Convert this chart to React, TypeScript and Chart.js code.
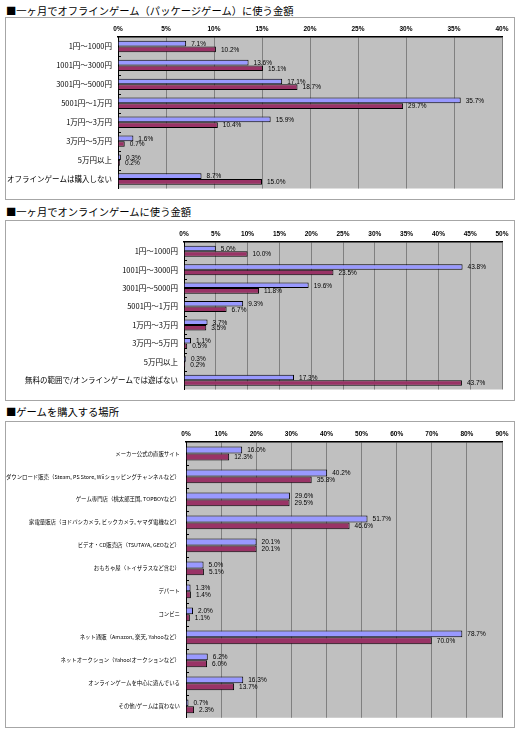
import React, { useEffect, useRef } from "react";
import { Chart, registerables } from "chart.js";

Chart.register(...registerables);

// ---------- DATA ----------
const offlineTitle = "■一ヶ月でオフラインゲーム（パッケージゲーム）に使う金額";
const offlineCategories = [
  "1円～1000円",
  "1001円～3000円",
  "3001円～5000円",
  "5001円～1万円",
  "1万円～3万円",
  "3万円～5万円",
  "5万円以上",
  "オフラインゲームは購入しない",
];
const offlineSeriesA = [7.1, 13.6, 17.1, 35.7, 15.9, 1.6, 0.3, 8.7];
const offlineSeriesB = [10.2, 15.1, 18.7, 29.7, 10.4, 0.7, 0.2, 15.0];
const offlineTicks = [0, 5, 10, 15, 20, 25, 30, 35, 40];

const onlineTitle = "■一ヶ月でオンラインゲームに使う金額";
const onlineCategories = [
  "1円～1000円",
  "1001円～3000円",
  "3001円～5000円",
  "5001円～1万円",
  "1万円～3万円",
  "3万円～5万円",
  "5万円以上",
  "無料の範囲で/オンラインゲームでは遊ばない",
];
const onlineSeriesA = [5.0, 43.8, 19.6, 9.3, 3.7, 1.1, 0.3, 17.3];
const onlineSeriesB = [10.0, 23.5, 11.8, 6.7, 3.5, 0.5, 0.2, 43.7];
const onlineTicks = [0, 5, 10, 15, 20, 25, 30, 35, 40, 45, 50];

const placeTitle = "■ゲームを購入する場所";
const placeCategories = [
  "メーカー公式の直販サイト",
  "ダウンロード販売（Steam, PS Store, Wiiショッピングチャンネルなど）",
  "ゲーム専門店（桃太郎王国, TOPBOYなど）",
  "家電量販店（ヨドバシカメラ, ビックカメラ, ヤマダ電機など）",
  "ビデオ・CD販売店（TSUTAYA, GEOなど）",
  "おもちゃ屋（トイザラスなど含む）",
  "デパート",
  "コンビニ",
  "ネット通販（Amazon, 楽天, Yahooなど）",
  "ネットオークション（Yahoo!オークションなど）",
  "オンラインゲームを中心に遊んでいる",
  "その他/ゲームは買わない",
];
const placeSeriesA = [16.0, 40.2, 29.6, 51.7, 20.1, 5.0, 1.3, 2.0, 78.7, 6.2, 16.3, 0.7];
const placeSeriesB = [12.3, 35.8, 29.5, 46.6, 20.1, 5.1, 1.4, 1.1, 70.0, 6.0, 13.7, 2.3];
const placeTicks = [0, 10, 20, 30, 40, 50, 60, 70, 80, 90];

// ---------- STYLE ----------
const COLOR_A = "#9999FF";
const COLOR_B = "#993366";
const PLOT_BG = "#C0C0C0";
const GRID = "#808080";
const JP = '"Noto Sans CJK JP", "Noto Sans", sans-serif';
const JP_NARROW = '"Liberation Sans Narrow", "Noto Sans CJK JP", sans-serif';
const LATIN = '"Liberation Sans", Arial, sans-serif';

const decoPlugin = {
  id: "deco",
  beforeDraw(chart: any) {
    const { ctx, chartArea: a } = chart;
    ctx.save();
    ctx.fillStyle = PLOT_BG;
    ctx.fillRect(a.left, a.top, a.right - a.left, a.bottom - a.top);
    ctx.restore();
  },
  afterDatasetsDraw(chart: any, _args: any, opts: any) {
    const { ctx, chartArea: a } = chart;
    ctx.save();
    ctx.font = `${opts.size || 6.5}px ${LATIN}`;
    ctx.fillStyle = "#000";
    ctx.textBaseline = "middle";
    ctx.textAlign = "left";
    chart.data.datasets.forEach((ds: any, i: number) => {
      const meta = chart.getDatasetMeta(i);
      meta.data.forEach((el: any, j: number) => {
        const v = ds.data[j] as number;
        ctx.fillText(v.toFixed(1) + "%", el.x + 5, el.y + 0.5);
      });
    });
    // inward tick marks at category boundaries
    const ys = chart.scales.y;
    const n = chart.data.labels.length;
    ctx.strokeStyle = "#000";
    ctx.lineWidth = 1;
    for (let k = 0; k < n - 1; k++) {
      const y = Math.round(ys.getPixelForValue(k + 0.5)) + 0.5;
      ctx.beginPath();
      ctx.moveTo(a.left, y);
      ctx.lineTo(a.left + 3, y);
      ctx.stroke();
    }
    ctx.restore();
  },
};

type PanelProps = {
  title: string;
  titleTop: number;
  frameTop: number;
  frameHeight: number;
  categories: string[];
  a: number[];
  b: number[];
  ticks: number[];
  yWidth: number;
  xHeight: number;
  padBottom: number;
  catFont: number;
  catFamily: string;
};

function Panel(p: PanelProps) {
  const ref = useRef<HTMLCanvasElement>(null);
  const cw = 508;
  const ch = p.frameHeight - 2;
  useEffect(() => {
    const step = p.ticks[1] - p.ticks[0];
    const chart = new Chart(ref.current!, {
      type: "bar",
      data: {
        labels: p.categories,
        datasets: [
          {
            data: p.a,
            backgroundColor: COLOR_A,
            borderColor: "#000",
            borderWidth: 1,
            barPercentage: 1,
            categoryPercentage: 0.6,
          },
          {
            data: p.b,
            backgroundColor: COLOR_B,
            borderColor: "#000",
            borderWidth: 1,
            barPercentage: 1,
            categoryPercentage: 0.6,
          },
        ],
      },
      options: {
        indexAxis: "y",
        animation: false,
        responsive: false,
        maintainAspectRatio: false,
        layout: { padding: { left: 0, right: 12, top: 0, bottom: p.padBottom } },
        plugins: {
          legend: { display: false },
          tooltip: { enabled: false },
          title: { display: false },
          deco: { size: 6.5 },
        } as any,
        scales: {
          x: {
            position: "top",
            min: p.ticks[0],
            max: p.ticks[p.ticks.length - 1],
            ticks: {
              stepSize: step,
              callback: (v: any) => `${v}%`,
              color: "#000",
              font: { family: LATIN, size: 6.5, weight: "bold" },
              padding: 4,
              maxRotation: 0,
            },
            grid: { color: GRID, lineWidth: 1, drawTicks: false },
            border: { color: "#000", width: 1.5 },
            afterFit: (s: any) => {
              s.height = p.xHeight;
            },
          },
          y: {
            ticks: {
              color: "#000",
              font: { family: p.catFamily, size: p.catFont },
              padding: 6,
              autoSkip: false,
            },
            grid: { display: false, drawTicks: false },
            border: { color: "#000", width: 1 },
            afterFit: (s: any) => {
              s.width = p.yWidth;
            },
          },
        },
      },
      plugins: [decoPlugin as any],
    });
    return () => chart.destroy();
  }, []);

  return (
    <>
      <div
        style={{
          position: "absolute",
          left: 6,
          top: p.titleTop,
          fontFamily: JP,
          fontSize: 10.3,
          lineHeight: "14px",
          color: "#000",
          whiteSpace: "nowrap",
        }}
      >
        {p.title}
      </div>
      <div
        style={{
          position: "absolute",
          left: 5,
          top: p.frameTop,
          width: 510,
          height: p.frameHeight,
          boxSizing: "border-box",
          border: "1px solid #a6a6a6",
          background: "#fff",
        }}
      >
        <canvas
          ref={ref}
          width={cw}
          height={ch}
          style={{ position: "absolute", left: 0, top: 0, width: cw, height: ch }}
        />
      </div>
    </>
  );
}

export default function App() {
  return (
    <div
      style={{
        position: "absolute",
        left: 0,
        top: 0,
        width: 520,
        height: 732,
        background: "#fff",
        overflow: "hidden",
      }}
    >
      <Panel
        title={offlineTitle}
        titleTop={4}
        frameTop={17}
        frameHeight={183}
        categories={offlineCategories}
        a={offlineSeriesA}
        b={offlineSeriesB}
        ticks={offlineTicks}
        yWidth={112}
        xHeight={19}
        padBottom={2}
        catFont={7.5}
        catFamily={JP}
      />
      <Panel
        title={onlineTitle}
        titleTop={205}
        frameTop={220}
        frameHeight={181}
        categories={onlineCategories}
        a={onlineSeriesA}
        b={onlineSeriesB}
        ticks={onlineTicks}
        yWidth={178}
        xHeight={21}
        padBottom={2}
        catFont={7.5}
        catFamily={JP}
      />
      <Panel
        title={placeTitle}
        titleTop={405}
        frameTop={421}
        frameHeight={307}
        categories={placeCategories}
        a={placeSeriesA}
        b={placeSeriesB}
        ticks={placeTicks}
        yWidth={180}
        xHeight={20}
        padBottom={3}
        catFont={5.4}
        catFamily={JP_NARROW}
      />
    </div>
  );
}
